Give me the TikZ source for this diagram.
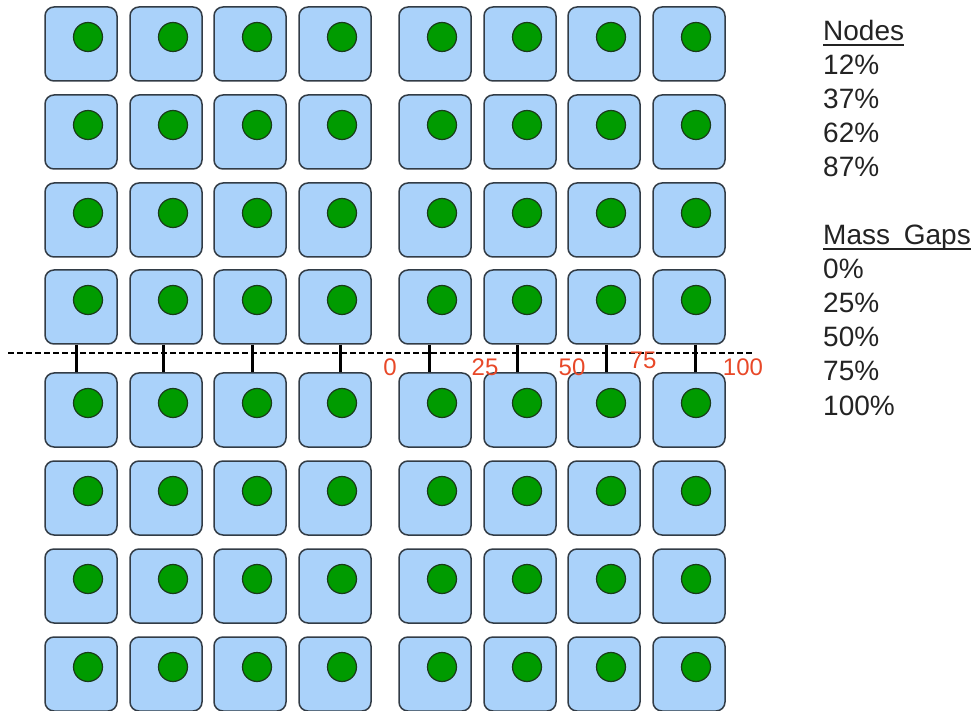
\documentclass[tikz,border=0pt]{standalone}
\usepackage{fontspec}
\setmainfont{Liberation Sans}
\usepackage{tikz}
\usetikzlibrary{calc,positioning}
\definecolor{cellblue}{RGB}{170,210,250}
\definecolor{celledge}{RGB}{50,60,70}
\definecolor{dotgreen}{RGB}{0,155,0}
\definecolor{dotedge}{RGB}{25,60,25}
\definecolor{gapred}{RGB}{232,72,40}
\definecolor{legendgray}{RGB}{35,35,35}

\begin{document}
\begin{tikzpicture}[x=1pt,y=-1pt,
    cell/.style={draw=celledge, fill=cellblue, line width=1.5pt, rounded corners=9pt,
      minimum width=72pt, minimum height=74pt, inner sep=0pt},
    dot/.style={circle, draw=dotedge, fill=dotgreen, line width=1.2pt,
      minimum size=29pt, inner sep=0pt},
    link/.style={line width=3pt, black},
    gaplabel/.style={text=gapred, font=\fontsize{24}{24}\selectfont, anchor=base, inner sep=0pt},
    legend/.style={text=legendgray, font=\fontsize{28}{28}\selectfont, anchor=base west, inner sep=0pt}]
                \useasboundingbox (0,0) rectangle (975,711);
                % grid of cells with a dot in each
                \foreach \r/\y in {1/44,2/132,3/220,4/307,5/410,6/498,7/586,8/674}{
                  \foreach \c/\x in {1/81,2/166,3/250,4/335,5/435,6/520,7/604,8/689}{
                    \node[cell] (c\r\c) at (\x,\y) {};
                    \node[dot] (d\r\c) at ($(c\r\c)+(7,-7)$) {};
                  }
                }
                % dashed line between the halves
                \coordinate (gapstart) at (8,353);
                \coordinate (gapend) at (752,353);
                \draw[line width=1.3pt, dash pattern=on 6pt off 3pt] (gapstart) -- (gapend);
                % links across the gap
                \foreach \c/\dx in {1/-5,2/-3,3/2,4/5,5/-6,6/-2.5,7/2.5,8/6.5}{
                  \draw[link] ($(c4\c.south)+(\dx,0)$) -- ($(c5\c.north)+(\dx,0)$);
                }
                % gap labels
                \node[gaplabel] (g0) at (390,375) {0};
                \node[gaplabel] (g25) at (485,375) {25};
                \node[gaplabel] (g50) at (572,375) {50};
                \node[gaplabel] (g75) at (643,369) {75};
                \node[gaplabel] (g100) at (743,375) {100};
                % legend
                \node[legend] (nodeshead) at (823,41) {Nodes};
                \draw[legendgray, line width=1.5pt] ($(nodeshead.base west)+(0,4)$) -- ($(nodeshead.base east)+(0,4)$);
                \foreach \t [count=\i] in {12\%,37\%,62\%,87\%}{
                  \node[legend] (n\i) at (823,41+34*\i) {\t};
                }
                \node[legend] (gapshead) at (823,245) {Mass\hspace{6pt} Gaps};
                \draw[legendgray, line width=1.5pt] ($(gapshead.base west)+(0,4)$) -- ($(gapshead.base east)+(0,4)$);
                \foreach \t [count=\i] in {0\%,25\%,50\%,75\%,100\%}{
                  \node[legend] (m\i) at (823,245+34*\i) {\t};
                }
\end{tikzpicture}
\end{document}
